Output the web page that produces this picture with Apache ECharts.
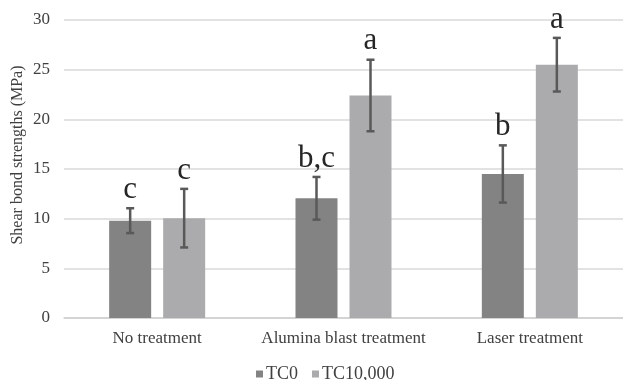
<!DOCTYPE html>
<html>
<head>
<meta charset="utf-8">
<script src="https://cdn.jsdelivr.net/npm/echarts@6/dist/echarts.min.js"></script>
<style>html,body{margin:0;padding:0;background:#fff}#c{width:623px;height:380px}</style>
</head>
<body>
<div id="c"></div>
<script>
const categories = ['No treatment', 'Alumina blast treatment', 'Laser treatment'];
const seriesNames = ['TC0', 'TC10,000'];
const tc0 = [9.8, 12.05, 14.5];
const tc10000 = [10.05, 22.4, 25.5];
const tc0Err = [1.25, 2.15, 2.88];
const tc10000Err = [2.95, 3.6, 2.7];
const tc0Letters = ['c', 'b,c', 'b'];
const tc10000Letters = ['c', 'a', 'a'];
const yMin = 0, yMax = 30, yStep = 5;

const SERIF = '"Liberation Serif", "Times New Roman", serif';
const colors = ['#838383', '#ababad'];
const BAR_W = 42, OFFSET = 27;

function errSeries(vals, errs, letters, sign) {
  return {
    type: 'custom',
    z: 10,
    data: vals.map((v, i) => [i, v, errs[i]]),
    renderItem: function (params, api) {
      const i = api.value(0), v = api.value(1), e = api.value(2);
      const top = api.coord([i, v + e]);
      const bot = api.coord([i, v - e]);
      const x = top[0] + sign * OFFSET;
      const st = { stroke: '#595959', lineWidth: 2.5 };
      const cap = 4;
      return {
        type: 'group',
        children: [
          { type: 'line', shape: { x1: x, y1: top[1], x2: x, y2: bot[1] }, style: st },
          { type: 'line', shape: { x1: x - cap, y1: top[1], x2: x + cap, y2: top[1] }, style: st },
          { type: 'line', shape: { x1: x - cap, y1: bot[1], x2: x + cap, y2: bot[1] }, style: st },
          { type: 'text', style: { text: letters[params.dataIndex], x: x, y: top[1] - 3, align: 'center', verticalAlign: 'bottom', fontFamily: SERIF, fontSize: 31, fill: '#262626' } }
        ]
      };
    }
  };
}

const chart = echarts.init(document.getElementById('c'), null, { renderer: 'canvas' });
chart.setOption({
  animation: false,
  backgroundColor: '#fff',
  textStyle: { fontFamily: SERIF },
  grid: { left: 64, top: 20, width: 565, height: 298, containLabel: false },
  legend: {
    data: seriesNames,
    left: 251, top: 360,
    icon: 'rect', itemWidth: 7, itemHeight: 7, itemGap: 14,
    textStyle: { fontFamily: SERIF, fontSize: 18, color: '#404040', padding: [0, 0, 0, -2] }
  },
  xAxis: {
    type: 'category',
    data: categories,
    axisTick: { show: false },
    axisLine: { lineStyle: { color: '#d0d0d0', width: 1.5 } },
    axisLabel: { fontFamily: SERIF, fontSize: 17, color: '#404040', margin: 12, interval: 0 }
  },
  yAxis: {
    type: 'value',
    min: yMin, max: yMax, interval: yStep,
    axisLine: { show: false },
    axisTick: { show: false },
    splitLine: { lineStyle: { color: '#d9d9d9', width: 1.5 } },
    axisLabel: { fontFamily: SERIF, fontSize: 17, color: '#404040', margin: 14 }
  },
  graphic: [{
    type: 'text', x: 18, y: 155, rotation: Math.PI / 2,
    style: { text: 'Shear bond strengths (MPa)', align: 'center', verticalAlign: 'middle', fontFamily: SERIF, fontSize: 16, fill: '#404040' }
  }],
  series: [
    { name: seriesNames[0], type: 'bar', data: tc0, barWidth: BAR_W, barGap: '28.6%', itemStyle: { color: colors[0] } },
    { name: seriesNames[1], type: 'bar', data: tc10000, barWidth: BAR_W, barGap: '28.6%', itemStyle: { color: colors[1] } },
    errSeries(tc0, tc0Err, tc0Letters, -1),
    errSeries(tc10000, tc10000Err, tc10000Letters, 1)
  ]
});
</script>
</body>
</html>
